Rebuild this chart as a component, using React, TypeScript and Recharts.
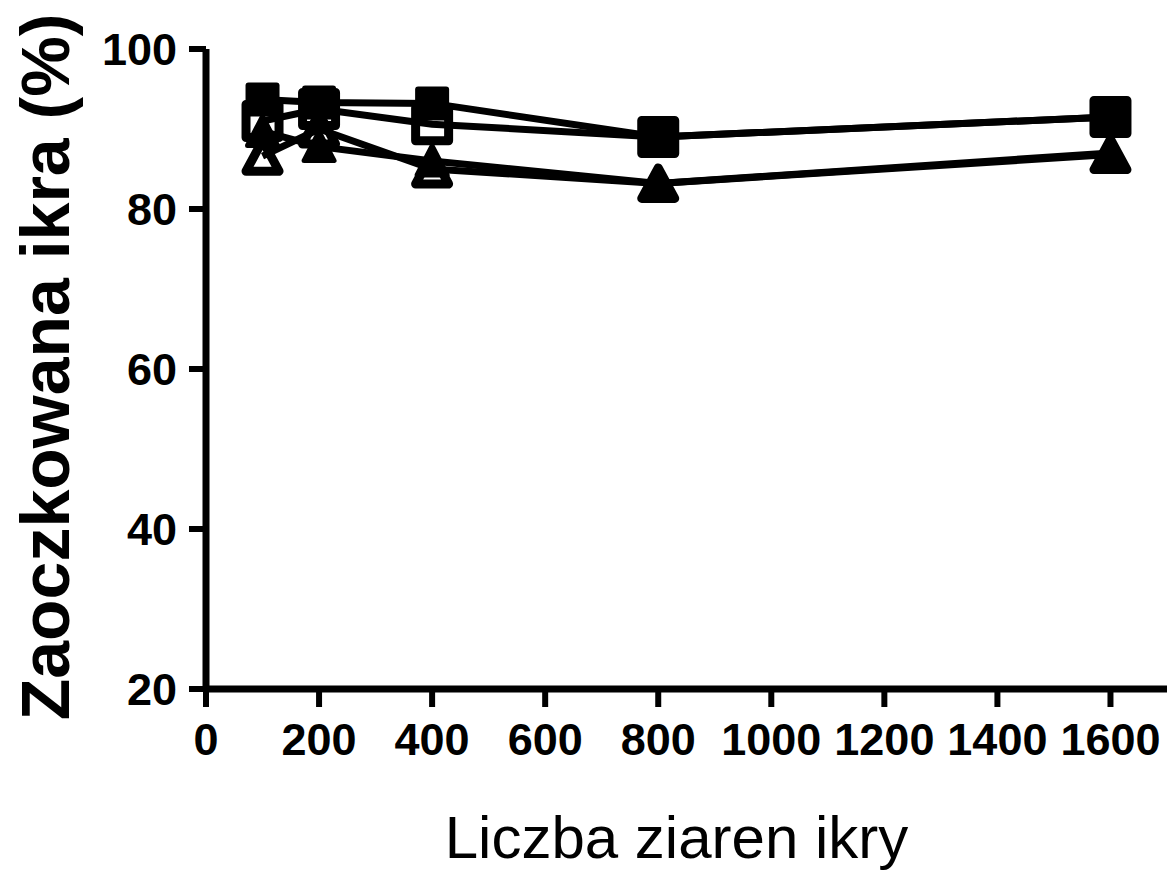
import React from 'react';
import { LineChart, Line, XAxis, YAxis, Label } from 'recharts';

const eggCounts = [100, 200, 400, 800, 1600];
const filledSquare = [93.7, 93.3, 93.2, 89.0, 91.5];
const openSquare = [91.0, 92.5, 90.6, 89.0, 91.5];
const filledTriangle = [89.7, 87.8, 86.0, 83.2, 87.0];
const openTriangle = [86.6, 90.0, 85.0, 83.2, 86.8];
const xTicks = [0, 200, 400, 600, 800, 1000, 1200, 1400, 1600];
const yTicks = [20, 40, 60, 80, 100];
const xTitle = 'Liczba ziaren ikry';
const yTitle = 'Zaoczkowana ikra (%)';

const data = eggCounts.map((x, i) => ({
  x,
  fs: filledSquare[i],
  os: openSquare[i],
  ft: filledTriangle[i],
  ot: openTriangle[i],
}));

const FONT = '"Liberation Sans", Arial, sans-serif';

const FilledSquareDot = (p: any) => {
  const { cx, cy } = p;
  if (cx == null || cy == null) return <g key={p.key} />;
  return <rect key={p.key} x={cx - 17} y={cy - 17} width={34} height={34} rx={3} fill="#000" />;
};
const OpenSquareDot = (p: any) => {
  const { cx, cy } = p;
  if (cx == null || cy == null) return <g key={p.key} />;
  return (
    <rect key={p.key} x={cx - 16.5} y={cy - 16.5} width={33} height={33} fill="none" stroke="#000" strokeWidth={9} strokeLinejoin="round" />
  );
};
const FilledTriangleDot = (p: any) => {
  const { cx, cy } = p;
  if (cx == null || cy == null) return <g key={p.key} />;
  const d = `M${cx},${cy - 15} L${cx + 15},${cy + 14} L${cx - 15},${cy + 14} Z`;
  return <path key={p.key} d={d} fill="#000" stroke="#000" strokeWidth={5} strokeLinejoin="round" />;
};
const OpenTriangleDot = (p: any) => {
  const { cx, cy } = p;
  if (cx == null || cy == null) return <g key={p.key} />;
  const d = `M${cx},${cy - 15.5} L${cx + 16.5},${cy + 15} L${cx - 16.5},${cy + 15} Z`;
  return <path key={p.key} d={d} fill="none" stroke="#000" strokeWidth={9} strokeLinejoin="round" />;
};

const YTitle = (props: any) => {
  const vb = props.viewBox || {};
  const x = (vb.x ?? 0) + 45;
  const y = (vb.y ?? 0) + (vb.height ?? 0) / 2 - 2;
  return (
    <text x={x} y={y} transform={`rotate(-90, ${x}, ${y})`} textAnchor="middle" dominantBaseline="central"
      style={{ fontFamily: FONT, fontWeight: 700, fontSize: 68 }} fill="#000">
      {yTitle}
    </text>
  );
};

const XTitle = (props: any) => {
  const vb = props.viewBox || {};
  const x = (vb.x ?? 0) + (vb.width ?? 0) / 2 - 10;
  const y = (vb.y ?? 0) + 169;
  return (
    <text x={x} y={y} textAnchor="middle" style={{ fontFamily: FONT, fontWeight: 400, fontSize: 60 }} fill="#000">
      {xTitle}
    </text>
  );
};

export default function App() {
  return (
    <div style={{ position: 'absolute', left: 0, top: 0, background: '#fff' }}>
      <LineChart width={1167} height={872} data={data} margin={{ top: 49, right: 0, left: 0, bottom: 0 }}>
        <XAxis
          dataKey="x"
          type="number"
          domain={[0, 1700]}
          ticks={xTicks}
          interval={0}
          height={183}
          axisLine={{ stroke: '#000', strokeWidth: 7 }}
          tickLine={{ stroke: '#000', strokeWidth: 6 }}
          tickSize={18}
          tickMargin={16}
          tick={{ fill: '#000', fontFamily: FONT, fontWeight: 700, fontSize: 45 }}
        >
          <Label content={<XTitle />} />
        </XAxis>
        <YAxis
          type="number"
          domain={[20, 100]}
          ticks={yTicks}
          interval={0}
          width={206}
          axisLine={{ stroke: '#000', strokeWidth: 7 }}
          tickLine={{ stroke: '#000', strokeWidth: 6 }}
          tickSize={17}
          tickMargin={12}
          tick={{ fill: '#000', fontFamily: FONT, fontWeight: 700, fontSize: 45 }}
        >
          <Label content={<YTitle />} />
        </YAxis>
        <Line dataKey="ot" stroke="#000" strokeWidth={7} dot={OpenTriangleDot} isAnimationActive={false} />
        <Line dataKey="ft" stroke="#000" strokeWidth={7} dot={FilledTriangleDot} isAnimationActive={false} />
        <Line dataKey="os" stroke="#000" strokeWidth={7} dot={OpenSquareDot} isAnimationActive={false} />
        <Line dataKey="fs" stroke="#000" strokeWidth={7} dot={FilledSquareDot} isAnimationActive={false} />
      </LineChart>
    </div>
  );
}
